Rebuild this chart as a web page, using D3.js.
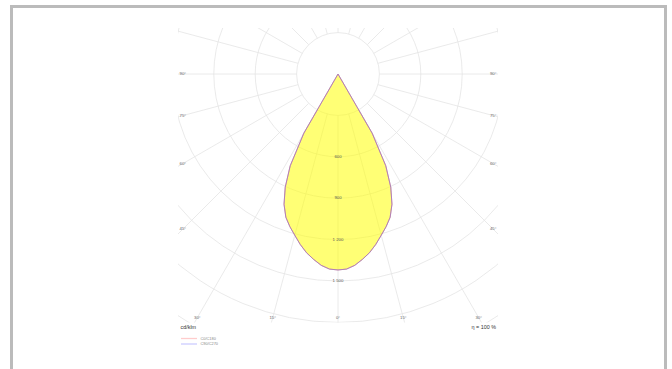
<!DOCTYPE html>
<html>
<head>
<meta charset="utf-8">
<script src="https://cdn.jsdelivr.net/npm/d3@7/dist/d3.min.js"></script>
<style>
  html, body { margin: 0; padding: 0; background: #fff; }
  svg { display: block; font-family: "Liberation Sans", Arial, sans-serif; }
</style>
</head>
<body>
<svg id="chart" width="672" height="369"></svg>
<script>
// Luminous intensity distribution (cd/klm) against gamma angle
const gammaDeg = [0, 2.5, 5, 7.5, 10, 12.5, 15, 17.5, 20, 22.5, 25, 27.5, 30, 32.5, 35];
const c0c180  = [1420, 1415, 1392, 1355, 1315, 1265, 1210, 1160, 1105, 1022, 905, 750, 495, 0, 0];
const c90c270 = [1420, 1415, 1392, 1355, 1315, 1265, 1210, 1160, 1105, 1022, 905, 750, 495, 0, 0];

// Grid definition
const ringValues   = [300, 600, 900, 1200, 1500, 1800, 2100, 2400, 2700];
const ringLabels   = [600, 900, 1200, 1500];
const spokeAngles  = [0, 15, 30, 45, 60, 75, 90, 105, 120, 135, 150, 165, 180, 195, 210, 225, 240, 255, 270, 285, 300, 315, 330, 345];
const angleLabels  = [0, 15, 30, 45, 60, 75, 90];
const seriesNames  = ["C0/C180", "C90/C270"];
const seriesColors = ["#ffcccc", "#ccccff"];
const unitLabel = "cd/klm";
const effLabel  = "η = 100 %";

const svg = d3.select("#chart");

// outer frame
svg.append("rect")
  .attr("x", 11.5).attr("y", 6.5)
  .attr("width", 654).attr("height", 420)
  .attr("fill", "none").attr("stroke", "#bbbbbb").attr("stroke-width", 3);

// plot box
const box = { x0: 178, y0: 28, x1: 498, y1: 322.4 };
const cx = 338, cy = 74;
const r = d3.scaleLinear().domain([0, 1800]).range([0, box.y1 - cy]);

svg.append("clipPath").attr("id", "plotclip")
  .append("rect")
  .attr("x", box.x0).attr("y", box.y0)
  .attr("width", box.x1 - box.x0).attr("height", box.y1 - box.y0);

const plot = svg.append("g").attr("clip-path", "url(#plotclip)");
const g = plot.append("g").attr("transform", `translate(${cx},${cy})`);

// rings
g.selectAll("circle.ring").data(ringValues).join("circle")
  .attr("class", "ring")
  .attr("r", d => r(d))
  .attr("fill", "none").attr("stroke", "#e4e4e4").attr("stroke-width", 0.8);

// spokes, gamma measured from straight down
const toRad = d => d * Math.PI / 180;
g.selectAll("line.spoke").data(spokeAngles).join("line")
  .attr("class", "spoke")
  .attr("x1", d => r(300) * Math.sin(toRad(d)))
  .attr("y1", d => r(300) * Math.cos(toRad(d)))
  .attr("x2", d => r(3600) * Math.sin(toRad(d)))
  .attr("y2", d => r(3600) * Math.cos(toRad(d)))
  .attr("stroke", "#e4e4e4").attr("stroke-width", 0.8);

// curve path: C180 side (left) from the top down, then C0 side (right) back up
function polarPoints(values) {
  const left = gammaDeg.map((gm, i) => [Math.PI + toRad(gm), r(values[i])]).reverse();
  const right = gammaDeg.slice(1).map((gm, i) => [Math.PI - toRad(gm), r(values[i + 1])]);
  return left.concat(right);
}
const radial = d3.lineRadial().angle(d => d[0]).radius(d => d[1]).curve(d3.curveLinear);

g.append("path")
  .attr("d", radial(polarPoints(c0c180)) + "Z")
  .attr("fill", "#ffff00").attr("fill-opacity", 0.54).attr("stroke", "none");

g.append("path")
  .attr("d", radial(polarPoints(c0c180)))
  .attr("fill", "none").attr("stroke", "#d87a8a").attr("stroke-width", 0.9)
  .attr("stroke-linejoin", "round");
g.append("path")
  .attr("d", radial(polarPoints(c90c270)))
  .attr("fill", "none").attr("stroke", "#8c7ad8").attr("stroke-width", 0.9).attr("stroke-opacity", 0.6)
  .attr("stroke-linejoin", "round");

// ring value labels along the 0° spoke
const fmt = v => d3.format(",")(v).replace(/,/g, " ");
svg.append("g").selectAll("text").data(ringLabels).join("text")
  .attr("x", cx).attr("y", d => cy + r(d))
  .attr("text-anchor", "middle").attr("dominant-baseline", "middle")
  .attr("font-size", 4.3).attr("fill", "#555")
  .text(fmt);

// angle labels where each spoke meets the slightly inset plot box
const inset = 4.8;
function edgePoint(deg, side) {
  const a = toRad(deg);
  const dx = side * Math.sin(a), dy = Math.cos(a);
  const ts = [];
  if (Math.abs(dx) > 1e-9) ts.push(((side > 0 ? box.x1 - inset : box.x0 + inset) - cx) / dx);
  if (dy > 1e-9) ts.push((box.y1 - inset - cy) / dy);
  const t = d3.min(ts.filter(v => v > 0));
  return [cx + dx * t, cy + dy * t];
}
const labelData = [];
angleLabels.forEach(d => {
  labelData.push({ deg: d, p: edgePoint(d, -1) });
  if (d > 0) labelData.push({ deg: d, p: edgePoint(d, 1) });
});
svg.append("g").selectAll("text").data(labelData).join("text")
  .attr("x", d => d.p[0]).attr("y", d => d.p[1])
  .attr("text-anchor", "middle").attr("dominant-baseline", "middle")
  .attr("font-size", 4.3).attr("fill", "#666")
  .text(d => d.deg + "°");

// unit and efficiency
svg.append("text").attr("x", 180.5).attr("y", 328)
  .attr("dominant-baseline", "middle").attr("font-size", 5.4).attr("fill", "#333")
  .text(unitLabel);
svg.append("text").attr("x", 496).attr("y", 328)
  .attr("text-anchor", "end").attr("dominant-baseline", "middle")
  .attr("font-size", 5.4).attr("fill", "#333")
  .text(effLabel);

// legend
const leg = svg.append("g").selectAll("g").data(seriesNames).join("g")
  .attr("transform", (d, i) => `translate(181,${338.5 + i * 5.5})`);
leg.append("line").attr("x1", 0).attr("x2", 16).attr("y1", 0).attr("y2", 0)
  .attr("stroke", (d, i) => seriesColors[i]).attr("stroke-width", 1.3);
leg.append("text").attr("x", 19.5).attr("y", 0)
  .attr("dominant-baseline", "middle").attr("font-size", 3.9).attr("fill", "#888")
  .text(d => d);
</script>
</body>
</html>
